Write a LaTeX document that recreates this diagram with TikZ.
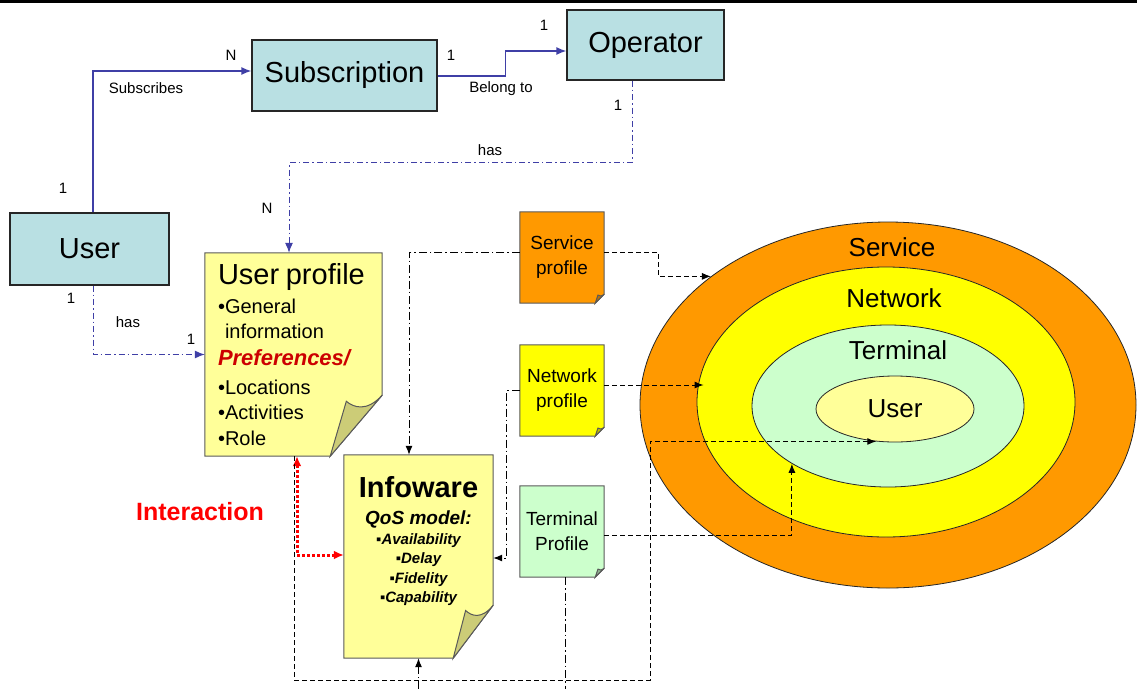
\documentclass[tikz,border=0pt]{standalone}
\usepackage{fontspec}
\setmainfont{Liberation Sans}
\usepackage{tikz}
\usetikzlibrary{
  arrows.meta,
  shapes.geometric,
  positioning,
  backgrounds
}
\definecolor{iwBox}{HTML}{B9E0E3}
\definecolor{iwLink}{HTML}{3F3FA6}
\definecolor{iwNote}{HTML}{FFFF99}
\definecolor{iwCurl}{HTML}{CCCC77}
\definecolor{iwSvc}{HTML}{FF9900}
\definecolor{iwNet}{HTML}{FFFF00}
\definecolor{iwTerm}{HTML}{CCFFCC}
\definecolor{iwRed}{HTML}{FF0000}
\definecolor{iwPref}{HTML}{CC0000}
\tikzset{
  entity/.style={
    draw=black!85, line width=1.3pt, fill=iwBox, inner sep=0pt,
    font=\fontsize{29}{30}\selectfont
  },
  note/.style={inner sep=0pt, align=center, font=\fontsize{19}{25}\selectfont},
  notedge/.style={draw=black!65, line width=1pt},
  ring/.style={ellipse, draw=black!85, line width=0.8pt, inner sep=0pt},
  ringtext/.style={inner sep=0pt, font=\fontsize{26}{26}\selectfont},
  card/.style={inner sep=1pt, font=\fontsize{15}{15}\selectfont},
  link/.style={-{Latex[length=10pt, width=8pt]}, line width=1.4pt, iwLink},
  haslink/.style={link, line width=1pt, dash pattern=on 6pt off 3pt on 1.5pt off 3pt},
  dashlink/.style={-{Latex[length=9pt, width=7pt]}, line width=1pt, dash pattern=on 5pt off 3pt},
  dotlink/.style={-{Latex[length=9pt, width=7pt]}, line width=1pt, dash pattern=on 8pt off 3pt on 1.5pt off 3pt},
  interact/.style={{Latex[length=10pt, width=9pt]}-{Latex[length=10pt, width=9pt]}, line width=3pt, iwRed, dotted}
}
% page with a curled corner, drawn behind the node #1
\newcommand{\notepage}[5]{%
  \begin{scope}[on background layer]
    \filldraw[notedge, fill=#2] (#1.north west) -- (#1.north east)
      -- ([yshift=#5]#1.south east) -- ([xshift=-#4]#1.south east)
      -- (#1.south west) -- cycle;
    \filldraw[notedge, fill=#3] ([yshift=#5]#1.south east)
      .. controls ([xshift=-0.3*#4, yshift=0.72*#5]#1.south east)
      and ([xshift=-0.55*#4, yshift=0.8*#5]#1.south east)
      .. ([xshift=-0.69*#4, yshift=0.9*#5]#1.south east)
      -- ([xshift=-#4]#1.south east) -- cycle;
  \end{scope}}

\begin{document}
\begin{tikzpicture}[x=1pt, y=-1pt]
  \useasboundingbox (0,0) rectangle (1137,688);
  \clip (0,0) rectangle (1137,688);
  \fill[black] (0,0) rectangle (1137,3);

  % entities
  \node[entity, minimum width=185pt, minimum height=71pt] (subs) at (344.5,75.5) {Subscription};
  \node[entity, minimum width=157pt, minimum height=70pt] (oper) at (645.5,45) {Operator};
  \node[entity, minimum width=159pt, minimum height=72pt] (user) at (89.5,249) {User};

  % context rings
  \node[ring, fill=iwSvc, minimum width=496pt, minimum height=366pt] (svcring) at (888,405) {};
  \node[ring, fill=iwNet, minimum width=378pt, minimum height=270pt] (netring) at (886,402) {};
  \node[ring, fill=iwTerm, minimum width=272pt, minimum height=162pt] (termring) at (888,406) {};
  \node[ring, fill=iwNote, minimum width=158pt, minimum height=66pt, font=\fontsize{26}{26}\selectfont] (userring) at (895,409) {User};
  \node[ringtext] (svctxt) at (892,247) {Service};
  \node[ringtext] (nettxt) at (894,298) {Network};
  \node[ringtext] (termtxt) at (898,350) {Terminal};

  % profiles
  \node[note, minimum width=177pt, minimum height=203pt, text width=151pt, inner xsep=13pt,
        align=left, font=\fontsize{20}{25.5}\selectfont] (uprof) at (293.5,354.5) {
    {\fontsize{29}{30}\selectfont User profile}\\[3pt]
    •General\\
    \phantom{•}information\\[1.5pt]
    {\fontsize{22}{24}\selectfont\bfseries\itshape\color{iwPref}Preferences/}\\[3pt]
    •Locations\\
    •Activities\\
    •Role};
  \notepage{uprof}{iwNote}{iwCurl}{52pt}{61pt}
  \node[note, minimum width=149pt, minimum height=203pt] (info) at (418.5,556.5) {};
  \notepage{info}{iwNote}{iwCurl}{40pt}{53pt}
  \node[note, below=21pt of info.north, font=\fontsize{15}{19.5}\selectfont\bfseries\itshape] (infotxt) {
    {\fontsize{29}{30}\selectfont\upshape Infoware}\\[8pt]
    {\fontsize{19}{20}\selectfont QoS model:}\\
    ▪Availability\\
    ▪Delay\\
    ▪Fidelity\\
    ▪Capability};
  \node[note, minimum width=84pt, minimum height=91pt] (svcp) at (562,257.5) {Service\\profile};
  \notepage{svcp}{iwSvc}{iwSvc!75!black}{9pt}{9pt}
  \node[note, minimum width=84pt, minimum height=91pt] (netp) at (562,390.5) {Network\\profile};
  \notepage{netp}{iwNet}{iwNet!75!black}{9pt}{9pt}
  \node[note, minimum width=84pt, minimum height=91pt] (termp) at (562,531.5) {Terminal\\Profile};
  \notepage{termp}{iwTerm}{iwTerm!70!black}{9pt}{9pt}

  % relations
  \draw[link] ([xshift=3.5pt]user.north) |- ([yshift=4.5pt]subs.west);
  \draw[link] ([yshift=-0.5pt]subs.east) -- ++(68,0) |- ([yshift=-6pt]oper.west);
  \draw[haslink] ([xshift=-13.5pt]oper.south) -- ++(0,82) -| ([xshift=-4.5pt]uprof.north);
  \draw[haslink] ([xshift=3.5pt]user.south) |- (uprof.west);
  \node[card] (c1user) at (63,188) {1};
  \node[card] (cNsubs) at (231,55) {N};
  \node[card] (subslbl) at (146,88) {Subscribes};
  \node[card] (c1subs) at (451,55) {1};
  \node[card] (belonglbl) at (501,89) {Belong to};
  \node[card] (c1oper) at (544,25) {1};
  \node[card] (c1operb) at (618,105) {1};
  \node[card] (haslbla) at (490,150) {has};
  \node[card] (cNprof) at (267,208) {N};
  \node[card] (c1userb) at (71,298) {1};
  \node[card] (haslblb) at (128,322) {has};
  \node[card] (c1prof) at (191,339) {1};

  % interaction
  \draw[interact] ([xshift=3.5pt]uprof.south) |- ([yshift=1.5pt]info.west);
  \node[font=\fontsize{25}{25}\selectfont\bfseries, text=iwRed, inner sep=0pt] (interlbl) at (200,512) {Interaction};

  % profile flows
  \draw[dotlink] ([yshift=5.5pt]svcp.west) -| ([xshift=-9.5pt]info.north);
  \draw[dashlink] ([yshift=5.5pt]svcp.east) -- ++(54,0) |- (svcring.144);
  \draw[dotlink] (netp.west) -- ++(-13,0) |- ([yshift=-1.5pt]info.east);
  \draw[dashlink] ([yshift=5.5pt]netp.east) -- ([xshift=7pt, yshift=5.5pt]netp.east -| netring.west);
  \draw[dashlink] ([yshift=-3.5pt]termp.east) -| (termring.211);
  \draw[dotlink] ([xshift=3pt]termp.south) -- ++(0,130) -| (info.south);
  \draw[dashlink] ([xshift=0.5pt]uprof.south) -- ++(0,224) -- ++(356,0) |- (userring.240);
\end{tikzpicture}
\end{document}
